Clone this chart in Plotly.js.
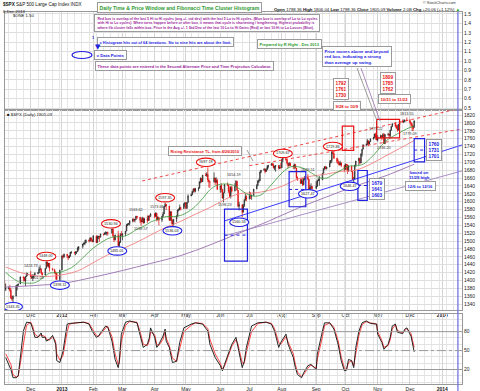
<!DOCTYPE html>
<html><head><meta charset="utf-8">
<script src="https://cdn.plot.ly/plotly-3.0.1.min.js"></script>
<style>html,body{margin:0;padding:0;background:#fff}#c{width:480px;height:391px}</style>
</head><body><div id="c"></div><script>
// ---------------- DATA ----------------
const dates = [
'2012-11-08','2012-11-09','2012-11-12','2012-11-13','2012-11-14','2012-11-15','2012-11-16','2012-11-19','2012-11-20','2012-11-21','2012-11-23','2012-11-26','2012-11-27','2012-11-28','2012-11-29','2012-11-30',
'2012-12-03','2012-12-04','2012-12-05','2012-12-06','2012-12-07','2012-12-10','2012-12-11','2012-12-12','2012-12-13','2012-12-14','2012-12-17','2012-12-18','2012-12-19','2012-12-20','2012-12-21','2012-12-24','2012-12-26','2012-12-27','2012-12-28','2012-12-31',
'2013-01-02','2013-01-03','2013-01-04','2013-01-07','2013-01-08','2013-01-09','2013-01-10','2013-01-11','2013-01-14','2013-01-15','2013-01-16','2013-01-17','2013-01-18','2013-01-22','2013-01-23','2013-01-24','2013-01-25','2013-01-28','2013-01-29','2013-01-30','2013-01-31',
'2013-02-01','2013-02-04','2013-02-05','2013-02-06','2013-02-07','2013-02-08','2013-02-11','2013-02-12','2013-02-13','2013-02-14','2013-02-15','2013-02-19','2013-02-20','2013-02-21','2013-02-22','2013-02-25','2013-02-26','2013-02-27','2013-02-28',
'2013-03-01','2013-03-04','2013-03-05','2013-03-06','2013-03-07','2013-03-08','2013-03-11','2013-03-12','2013-03-13','2013-03-14','2013-03-15','2013-03-18','2013-03-19','2013-03-20','2013-03-21','2013-03-22','2013-03-25','2013-03-26','2013-03-27','2013-03-28',
'2013-04-01','2013-04-02','2013-04-03','2013-04-04','2013-04-05','2013-04-08','2013-04-09','2013-04-10','2013-04-11','2013-04-12','2013-04-15','2013-04-16','2013-04-17','2013-04-18','2013-04-19','2013-04-22','2013-04-23','2013-04-24','2013-04-25','2013-04-26','2013-04-29','2013-04-30',
'2013-05-01','2013-05-02','2013-05-03','2013-05-06','2013-05-07','2013-05-08','2013-05-09','2013-05-10','2013-05-13','2013-05-14','2013-05-15','2013-05-16','2013-05-17','2013-05-20','2013-05-21','2013-05-22','2013-05-23','2013-05-24','2013-05-28','2013-05-29','2013-05-30','2013-05-31',
'2013-06-03','2013-06-04','2013-06-05','2013-06-06','2013-06-07','2013-06-10','2013-06-11','2013-06-12','2013-06-13','2013-06-14','2013-06-17','2013-06-18','2013-06-19','2013-06-20','2013-06-21','2013-06-24','2013-06-25','2013-06-26','2013-06-27','2013-06-28',
'2013-07-01','2013-07-02','2013-07-03','2013-07-05','2013-07-08','2013-07-09','2013-07-10','2013-07-11','2013-07-12','2013-07-15','2013-07-16','2013-07-17','2013-07-18','2013-07-19','2013-07-22','2013-07-23','2013-07-24','2013-07-25','2013-07-26','2013-07-29','2013-07-30','2013-07-31',
'2013-08-01','2013-08-02','2013-08-05','2013-08-06','2013-08-07','2013-08-08','2013-08-09','2013-08-12','2013-08-13','2013-08-14','2013-08-15','2013-08-16','2013-08-19','2013-08-20','2013-08-21','2013-08-22','2013-08-23','2013-08-26','2013-08-27','2013-08-28','2013-08-29','2013-08-30',
'2013-09-03','2013-09-04','2013-09-05','2013-09-06','2013-09-09','2013-09-10','2013-09-11','2013-09-12','2013-09-13','2013-09-16','2013-09-17','2013-09-18','2013-09-19','2013-09-20','2013-09-23','2013-09-24','2013-09-25','2013-09-26','2013-09-27','2013-09-30',
'2013-10-01','2013-10-02','2013-10-03','2013-10-04','2013-10-07','2013-10-08','2013-10-09','2013-10-10','2013-10-11','2013-10-14','2013-10-15','2013-10-16','2013-10-17','2013-10-18','2013-10-21','2013-10-22','2013-10-23','2013-10-24','2013-10-25','2013-10-28','2013-10-29','2013-10-30','2013-10-31',
'2013-11-01','2013-11-04','2013-11-05','2013-11-06','2013-11-07','2013-11-08','2013-11-11','2013-11-12','2013-11-13','2013-11-14','2013-11-15','2013-11-18','2013-11-19','2013-11-20','2013-11-21','2013-11-22','2013-11-25','2013-11-26','2013-11-27','2013-11-29',
'2013-12-02','2013-12-03','2013-12-04','2013-12-05','2013-12-06'];
const openP = [
1394.5,1377.6,1379.9,1380.0,1374.6,1355.4,1353.4,1359.9,1386.8,1387.8,1391.0,1409.2,1406.3,1398.8,1409.9,1416.0,
1416.3,1409.5,1407.1,1409.4,1413.9,1418.1,1418.6,1427.8,1428.5,1419.5,1413.5,1430.5,1446.8,1435.8,1443.7,1430.2,1426.7,1419.8,1418.1,1402.4,
1426.2,1462.4,1459.4,1466.5,1461.9,1457.2,1461.0,1472.1,1472.1,1470.7,1472.3,1472.6,1480.9,1486.0,1492.6,1494.8,1494.8,1503.0,1500.2,1507.8,1502.0,
1498.1,1513.2,1495.7,1511.3,1512.1,1509.4,1517.9,1517.0,1519.4,1520.3,1521.4,1519.8,1530.9,1512.0,1502.4,1515.6,1487.9,1496.9,1516.0,
1514.7,1518.2,1525.2,1539.8,1541.5,1544.3,1551.2,1556.2,1552.5,1554.5,1563.2,1560.7,1552.1,1548.3,1558.7,1545.8,1556.9,1551.7,1563.8,1562.9,
1569.2,1562.2,1570.3,1553.7,1560.0,1553.3,1563.1,1568.6,1587.7,1593.4,1588.9,1552.4,1574.6,1552.0,1541.6,1555.3,1562.5,1578.8,1578.8,1585.2,1582.2,1593.6,
1597.6,1582.7,1597.6,1614.4,1617.5,1626.0,1632.7,1626.7,1633.7,1633.8,1650.3,1658.8,1650.5,1667.5,1666.3,1669.2,1655.4,1650.5,1649.6,1660.1,1648.4,1654.4,
1630.7,1640.4,1631.4,1608.9,1622.6,1643.4,1642.8,1626.1,1612.5,1636.4,1626.7,1639.0,1651.8,1628.9,1588.2,1592.4,1573.1,1588.0,1603.3,1613.2,
1606.3,1615.0,1614.1,1615.4,1631.9,1640.5,1652.3,1652.6,1675.0,1680.2,1682.5,1676.3,1680.9,1689.4,1692.1,1695.5,1692.4,1685.9,1690.3,1691.7,1685.3,1686.0,
1685.7,1706.9,1709.7,1707.1,1697.4,1690.9,1697.5,1691.4,1689.5,1694.2,1685.4,1661.3,1655.8,1646.1,1652.4,1642.8,1657.0,1663.5,1656.8,1630.5,1635.0,1638.2,
1633.0,1639.8,1653.1,1655.1,1655.2,1671.7,1684.0,1689.1,1683.4,1688.0,1697.6,1704.8,1725.5,1722.3,1709.9,1701.8,1697.4,1692.8,1698.7,1691.8,
1681.6,1695.0,1693.9,1678.7,1690.5,1676.1,1655.5,1656.4,1692.6,1703.2,1710.1,1698.1,1721.5,1733.2,1744.5,1744.7,1754.7,1746.4,1752.1,1759.8,1762.1,1772.0,1763.3,
1756.5,1761.6,1767.9,1763.0,1770.5,1747.2,1770.6,1771.9,1767.7,1782.0,1790.6,1798.2,1791.5,1787.9,1781.4,1795.9,1804.8,1802.5,1802.8,1807.2,
1805.8,1800.9,1795.2,1792.8,1788.4];
const highP = [
1401.0,1391.4,1384.9,1388.8,1380.1,1360.6,1362.0,1386.9,1389.8,1391.2,1409.2,1409.2,1409.0,1410.0,1419.7,1418.9,
1423.73,1413.1,1415.6,1413.9,1420.3,1421.6,1434.3,1438.6,1431.4,1419.5,1430.7,1448.0,1447.8,1443.7,1443.7,1430.2,1429.4,1422.7,1418.1,1426.7,
1462.4,1465.5,1467.9,1466.5,1461.9,1464.7,1472.3,1472.8,1472.1,1473.3,1473.0,1485.2,1486.0,1492.6,1496.1,1502.3,1503.3,1503.2,1509.3,1509.9,1504.2,
1514.4,1513.2,1514.0,1512.5,1512.9,1518.3,1518.3,1522.3,1524.7,1523.1,1524.2,1530.94,1530.9,1512.0,1515.6,1525.8,1498.9,1520.1,1525.3,
1519.9,1525.3,1543.5,1545.3,1545.8,1552.5,1556.3,1556.8,1556.4,1563.62,1563.2,1560.7,1557.3,1561.6,1558.7,1557.7,1564.9,1563.9,1564.1,1570.3,
1570.6,1573.66,1571.5,1562.6,1560.0,1563.1,1573.9,1589.1,1597.35,1593.4,1588.9,1575.4,1574.6,1554.4,1555.9,1565.6,1579.6,1583.0,1592.6,1585.8,1596.7,1597.6,
1597.6,1598.6,1618.5,1619.8,1626.0,1632.8,1635.0,1633.7,1636.0,1651.1,1661.5,1660.5,1667.5,1672.8,1674.9,1687.18,1655.4,1650.5,1674.2,1660.1,1661.9,1658.0,
1640.4,1646.5,1631.4,1622.6,1644.4,1648.7,1642.8,1637.7,1639.3,1640.8,1646.5,1654.19,1652.5,1628.9,1599.2,1592.4,1593.8,1606.8,1620.1,1615.9,
1626.0,1624.3,1618.0,1632.1,1644.7,1654.2,1657.9,1676.6,1680.2,1684.5,1683.7,1684.8,1693.1,1692.1,1697.6,1698.8,1697.2,1690.9,1691.7,1691.7,1693.2,1698.4,
1707.9,1709.67,1709.7,1707.1,1697.4,1700.2,1699.4,1691.4,1696.8,1694.2,1685.4,1663.6,1659.6,1658.9,1660.0,1659.6,1664.0,1669.51,1656.8,1641.2,1646.4,1640.1,
1651.4,1655.7,1659.2,1664.8,1672.4,1684.1,1689.1,1690.0,1688.0,1705.0,1705.5,1729.4,1729.86,1725.2,1711.4,1707.6,1701.7,1703.9,1698.7,1691.8,
1696.6,1695.0,1693.9,1691.9,1690.5,1676.8,1662.5,1692.6,1703.4,1711.0,1711.0,1721.8,1733.4,1745.3,1747.8,1759.3,1754.7,1753.7,1759.8,1764.8,1772.1,1775.22,1768.5,
1768.5,1769.5,1767.9,1773.4,1774.5,1770.8,1773.2,1772.3,1782.0,1791.5,1798.2,1802.3,1795.5,1795.0,1797.2,1804.8,1808.4,1808.4,1808.4,1813.55,
1810.0,1800.9,1799.8,1792.8,1806.0];
const lowP = [
1377.5,1373.0,1377.2,1371.4,1352.5,1348.1,1343.35,1359.9,1374.6,1386.4,1391.0,1397.7,1398.0,1385.4,1409.0,1411.6,
1408.5,1403.6,1398.2,1405.0,1410.9,1415.6,1418.6,1426.8,1416.0,1411.9,1413.5,1430.5,1435.8,1432.8,1422.6,1424.7,1416.4,1401.8,1401.6,1398.11,
1426.2,1455.5,1458.0,1456.6,1451.6,1457.2,1461.0,1467.6,1465.7,1463.8,1467.0,1472.6,1475.8,1481.2,1489.9,1489.5,1494.8,1496.3,1498.1,1500.1,1496.8,
1498.1,1495.0,1495.7,1504.7,1498.1,1509.4,1513.6,1515.6,1515.9,1514.0,1514.1,1519.8,1511.4,1497.3,1502.4,1487.9,1485.01,1494.9,1514.5,
1501.5,1512.3,1525.2,1538.1,1541.5,1539.4,1547.4,1548.2,1547.4,1554.5,1555.7,1545.1,1538.57,1548.3,1543.6,1545.8,1546.2,1551.7,1551.9,1561.1,
1558.5,1562.2,1549.8,1552.5,1539.5,1548.6,1560.9,1568.6,1586.5,1579.0,1552.3,1552.4,1543.7,1536.03,1539.4,1548.2,1562.5,1575.8,1578.8,1577.6,1582.2,1586.5,
1581.3,1582.7,1597.6,1614.2,1616.6,1622.7,1623.1,1623.7,1626.7,1633.8,1646.7,1648.6,1650.5,1666.1,1662.7,1648.9,1635.5,1635.0,1649.6,1642.0,1648.4,1630.7,
1622.7,1623.6,1608.0,1598.23,1622.6,1639.3,1621.5,1610.9,1608.1,1622.9,1626.7,1639.0,1628.9,1585.8,1577.7,1560.33,1573.1,1588.0,1603.3,1601.1,
1606.3,1606.8,1604.6,1615.4,1631.9,1640.5,1647.7,1652.6,1672.3,1677.9,1671.8,1676.3,1680.9,1684.1,1692.1,1692.1,1684.1,1680.1,1676.0,1681.9,1682.4,1684.9,
1685.7,1700.7,1703.6,1693.9,1684.5,1690.9,1689.7,1683.4,1682.2,1684.4,1658.6,1652.6,1646.0,1646.1,1639.4,1642.8,1654.0,1656.0,1630.4,1627.47,1630.9,1628.1,
1633.0,1637.4,1653.1,1640.6,1655.2,1671.7,1681.0,1682.0,1682.2,1688.0,1697.6,1699.0,1721.1,1708.9,1697.1,1694.9,1691.9,1692.8,1687.5,1675.0,
1681.6,1680.3,1670.2,1676.0,1675.7,1655.0,1646.47,1656.4,1688.5,1692.1,1695.9,1698.1,1714.1,1733.2,1740.7,1744.7,1740.5,1745.5,1752.1,1757.7,1762.1,1757.2,1755.7,
1752.7,1761.6,1755.6,1763.0,1746.2,1746.2,1767.8,1762.6,1760.6,1780.2,1790.6,1788.4,1784.7,1777.2,1781.4,1794.7,1800.8,1800.0,1802.8,1805.8,
1798.6,1787.9,1779.1,1779.09,1788.4];
const closeP = [
1377.5,1379.9,1380.0,1374.5,1355.5,1353.3,1359.9,1386.9,1387.8,1391.0,1409.2,1406.3,1398.9,1409.9,1416.0,1416.2,
1409.5,1407.1,1409.3,1413.9,1418.1,1418.6,1427.8,1428.5,1419.5,1413.6,1430.4,1446.8,1435.8,1443.7,1430.2,1426.7,1419.8,1418.1,1402.4,1426.2,
1462.4,1459.4,1466.5,1461.9,1457.2,1461.0,1472.1,1472.1,1470.7,1472.3,1472.6,1480.9,1486.0,1492.6,1494.8,1494.8,1503.0,1500.2,1507.8,1502.0,1498.1,
1513.2,1495.7,1511.3,1512.1,1509.4,1517.9,1517.0,1519.4,1520.3,1521.4,1519.8,1530.9,1512.0,1502.4,1515.6,1487.9,1496.9,1516.0,1514.7,
1518.2,1525.2,1539.8,1541.5,1544.3,1551.2,1556.2,1552.5,1554.5,1563.2,1560.7,1552.1,1548.3,1558.7,1545.8,1556.9,1551.7,1563.8,1562.9,1569.2,
1562.2,1570.3,1553.7,1560.0,1553.3,1563.1,1568.6,1587.7,1593.4,1588.9,1552.4,1574.6,1552.0,1541.6,1555.3,1562.5,1578.8,1578.8,1585.2,1582.2,1593.6,1597.6,
1582.7,1597.6,1614.4,1617.5,1626.0,1632.7,1626.7,1633.7,1633.8,1650.3,1658.8,1650.5,1667.5,1666.3,1669.2,1655.4,1650.5,1649.6,1660.1,1648.4,1654.4,1630.7,
1640.4,1631.4,1608.9,1622.6,1643.4,1642.8,1626.1,1612.5,1636.4,1626.7,1639.0,1651.8,1628.9,1588.2,1592.4,1573.1,1588.0,1603.3,1613.2,1606.3,
1615.0,1614.1,1615.4,1631.9,1640.5,1652.3,1652.6,1675.0,1680.2,1682.5,1676.3,1680.9,1689.4,1692.1,1695.5,1692.4,1685.9,1690.3,1691.7,1685.3,1686.0,1685.7,
1706.9,1709.67,1707.1,1697.4,1690.9,1697.5,1691.4,1689.5,1694.2,1685.4,1661.3,1655.8,1646.1,1652.4,1642.8,1657.0,1663.5,1656.8,1630.5,1635.0,1638.2,1633.0,
1639.8,1653.1,1655.1,1655.2,1671.7,1684.0,1689.1,1683.4,1688.0,1697.6,1704.8,1725.5,1722.3,1709.9,1701.8,1697.4,1692.8,1698.7,1691.8,1681.6,
1695.0,1693.9,1678.7,1690.5,1676.1,1655.5,1656.4,1692.6,1703.2,1710.1,1698.1,1721.5,1733.2,1744.5,1744.7,1754.7,1746.4,1752.1,1759.8,1762.1,1772.0,1763.3,1756.5,
1761.6,1767.9,1763.0,1770.5,1747.2,1770.6,1771.9,1767.7,1782.0,1790.6,1798.2,1791.5,1787.9,1781.4,1795.9,1804.8,1802.5,1802.8,1807.2,1805.8,
1800.9,1795.2,1792.8,1785.0,1805.1];

// moving averages (weekly samples)
const ma20Dates = ['2012-11-09','2012-11-16','2012-11-23','2012-11-30','2012-12-07','2012-12-14','2012-12-21','2012-12-31','2013-01-04','2013-01-11','2013-01-18','2013-01-25','2013-02-01','2013-02-08','2013-02-15','2013-02-22','2013-03-01','2013-03-08','2013-03-15','2013-03-22','2013-03-28','2013-04-05','2013-04-12','2013-04-19','2013-04-26','2013-05-03','2013-05-10','2013-05-17','2013-05-24','2013-05-31','2013-06-07','2013-06-14','2013-06-21','2013-06-28','2013-07-05','2013-07-12','2013-07-19','2013-07-26','2013-08-02','2013-08-09','2013-08-16','2013-08-23','2013-08-30','2013-09-06','2013-09-13','2013-09-20','2013-09-27','2013-10-04','2013-10-11','2013-10-18','2013-10-25','2013-11-01','2013-11-08','2013-11-15','2013-11-22','2013-11-29','2013-12-06'];
const ma20 = [1420,1405,1395,1393,1394,1405,1418,1420,1424,1432,1447,1465,1482,1495,1506,1511,1511,1518,1530,1538,1548,1556,1562,1562,1565,1574,1588,1608,1630,1642,1645,1643,1633,1620,1614,1617,1634,1655,1675,1688,1689,1683,1672,1661,1660,1670,1680,1690,1691,1695,1710,1730,1752,1765,1775,1785,1792];
const ma50Dates = ['2012-11-09','2012-11-23','2012-12-07','2012-12-21','2013-01-04','2013-01-18','2013-02-01','2013-02-15','2013-03-01','2013-03-15','2013-03-28','2013-04-12','2013-04-26','2013-05-10','2013-05-24','2013-06-07','2013-06-21','2013-07-05','2013-07-19','2013-08-02','2013-08-16','2013-08-30','2013-09-13','2013-09-27','2013-10-11','2013-10-25','2013-11-08','2013-11-22','2013-12-06'];
const ma50 = [1434,1420,1412,1410,1415,1425,1445,1465,1480,1497,1515,1535,1550,1568,1585,1605,1620,1622,1628,1640,1657,1665,1670,1677,1680,1695,1715,1735,1755];
const ma200Dates = ['2012-11-09','2012-12-07','2013-01-04','2013-02-01','2013-03-01','2013-03-28','2013-04-26','2013-05-24','2013-06-21','2013-07-19','2013-08-16','2013-09-13','2013-10-11','2013-11-08','2013-12-06'];
const ma200 = [1383,1387,1393,1408,1425,1443,1463,1490,1520,1550,1583,1612,1640,1665,1695];

// slow stochastic (%K black, %D red)
const stoDates = ['2012-11-09','2012-11-14','2012-11-16','2012-11-19','2012-11-21','2012-11-26','2012-11-29','2012-12-03','2012-12-05','2012-12-07','2012-12-10','2012-12-13','2012-12-14','2012-12-17','2012-12-18','2012-12-21','2012-12-24','2012-12-26','2012-12-27','2012-12-28','2012-12-31','2013-01-03','2013-01-07','2013-01-09','2013-01-16','2013-01-23','2013-01-28','2013-01-31','2013-02-04','2013-02-06','2013-02-08','2013-02-13','2013-02-15','2013-02-19','2013-02-22','2013-02-25','2013-02-26','2013-02-28','2013-03-04','2013-03-08','2013-03-15','2013-03-18','2013-03-21','2013-03-25','2013-03-27','2013-03-28','2013-04-01','2013-04-03','2013-04-05','2013-04-09','2013-04-11','2013-04-12','2013-04-15','2013-04-18','2013-04-22','2013-04-25','2013-04-29','2013-05-06','2013-05-10','2013-05-17','2013-05-22','2013-05-24','2013-05-29','2013-06-03','2013-06-05','2013-06-07','2013-06-12','2013-06-14','2013-06-18','2013-06-20','2013-06-21','2013-06-24','2013-06-26','2013-06-28','2013-07-03','2013-07-09','2013-07-17','2013-07-22','2013-07-25','2013-07-29','2013-07-31','2013-08-05','2013-08-07','2013-08-12','2013-08-14','2013-08-16','2013-08-20','2013-08-22','2013-08-26','2013-08-29','2013-09-03','2013-09-04','2013-09-09','2013-09-11','2013-09-16','2013-09-20','2013-09-24','2013-09-27','2013-09-30','2013-10-02','2013-10-04','2013-10-07','2013-10-09','2013-10-11','2013-10-14','2013-10-17','2013-10-21','2013-10-25','2013-10-31','2013-11-01','2013-11-05','2013-11-07','2013-11-11','2013-11-13','2013-11-15','2013-11-18','2013-11-20','2013-11-25','2013-11-27','2013-11-29','2013-12-03','2013-12-06'];
const stoK = [39,20,7,7,10,81,95,94,84,71,71,78,71,71,65,68,74,65,60,34,31,49,92,93,94,95,92,81,71,73,78,89,87,65,36,23,33,76,95,97,94,73,55,60,71,86,71,55,60,73,84,65,55,31,33,63,86,92,94,92,81,60,39,26,18,28,52,60,71,55,49,23,33,55,89,94,95,92,81,55,63,76,60,39,23,12,7,15,26,28,20,44,81,94,94,84,60,34,18,19,36,34,23,55,81,94,97,93,92,76,63,52,60,71,89,92,79,77,84,86,73,48];
const stoD = [45,28,12,8,9,60,90,95,88,76,72,75,74,72,68,67,71,68,63,45,35,42,80,92,94,95,93,85,74,72,76,86,88,72,45,28,30,65,90,96,95,80,60,58,66,80,75,60,58,68,80,70,58,38,33,55,80,90,94,93,85,68,45,30,20,25,46,57,67,60,52,30,30,48,80,93,95,93,85,63,60,72,64,45,28,16,9,12,22,27,22,36,72,90,94,87,66,40,22,19,31,34,26,46,74,91,96,94,92,80,66,55,58,67,84,91,82,78,82,85,77,55];

// labelled turning points
const highLblDates = ['2012-12-18','2013-02-19','2013-04-11','2013-05-22','2013-08-02','2013-09-19'];
const highLblVals  = [1448.00,1530.94,1597.35,1687.18,1709.67,1729.86];
const lowLblDates  = ['2012-11-16','2012-12-31','2013-02-26','2013-04-18','2013-06-24','2013-08-28','2013-10-09'];
const lowLblVals   = [1343.35,1398.11,1485.01,1536.03,1560.33,1627.47,1646.47];
const plainLblDates = ['2012-12-03','2012-12-06','2013-03-14','2013-04-02','2013-03-19','2013-06-18','2013-06-06','2013-08-26','2013-10-30','2013-11-07','2013-11-29','2013-12-05'];
const plainLblVals  = [1423.73,1401.58,1563.62,1573.66,1538.57,1654.19,1598.23,1669.51,1775.22,1746.20,1813.55,1779.09];

// time & price windows
const redWin1Dates = ['2013-09-28','2013-10-09'];  const redWin1Vals = [1792,1761,1730];
const redWin2Dates = ['2013-10-31','2013-11-22'];  const redWin2Vals = [1809,1785,1762];
const blueWinADates = ['2013-06-07','2013-06-29']; const blueWinAVals = [1581,1515,1449];
const blueWinBDates = ['2013-08-08','2013-08-24']; const blueWinBVals = [1676,1631,1587];
const blueWinCDates = ['2013-10-13','2013-10-22']; const blueWinCVals = [1679,1641,1603];
const blueWinDDates = ['2013-12-06','2013-12-16']; const blueWinDVals = [1760,1731,1701];

// histogram hits
const hitDates = ['2013-10-09','2013-11-12','2013-11-19'];
const hitCounts = ['1','4','3'];

// trendlines (start/end)
const resistTL = {d:['2013-03-20','2014-01-21'], v:[1652.5,1837.8]};
const resist2TL = {d:['2013-07-01','2014-01-21'], v:[1691.4,1784.5]};
const supportTL = {d:['2013-06-07','2014-01-21'], v:[1551,1744]};
const lowerTL = {d:['2013-06-07','2014-01-21'], v:[1513,1678]};
const markerDate = '2014-01-17';

const monthTicks = ['2012-12-03','2013-01-02','2013-02-01','2013-03-01','2013-04-01','2013-05-01','2013-06-03','2013-07-01','2013-08-01','2013-09-03','2013-10-01','2013-11-01','2013-12-02','2014-01-02'];
const monthLabels = ['Dec','<b>2013</b>','Feb','Mar','Apr','May','Jun','Jul','Aug','Sep','Oct','Nov','Dec','<b>2014</b>'];

// ---------------- DRAWING ----------------
const W=480,H=391;
const PX=x=>x/W, PY=y=>1-y/H;
const F='Liberation Sans, Arial, sans-serif';
const RED='#e81010', BLUE='#2020e0', PURP='#9b1f9b', GREEN='#2e9a2e';
const xr=['2012-11-08 08:00','2014-01-20 22:00'];

const traces=[];
traces.push({type:'scatter',x:hitDates,y:[0.37,0.43,0.43],xaxis:'x',yaxis:'y',mode:'markers+text',
  text:hitCounts,textposition:'top center',textfont:{family:F,size:5,color:RED},cliponaxis:false,
  marker:{symbol:'triangle-down',size:6,color:RED},hoverinfo:'skip',showlegend:false});
traces.push({type:'scatter',x:ma200Dates,y:ma200,xaxis:'x2',yaxis:'y2',mode:'lines',line:{color:'#9a6fb0',width:0.9,shape:'spline'},hoverinfo:'skip',showlegend:false});
traces.push({type:'scatter',x:ma50Dates,y:ma50,xaxis:'x2',yaxis:'y2',mode:'lines',line:{color:'#f08080',width:0.9,shape:'spline'},hoverinfo:'skip',showlegend:false});
traces.push({type:'scatter',x:ma20Dates,y:ma20,xaxis:'x2',yaxis:'y2',mode:'lines',line:{color:'#3a9a3a',width:0.8,shape:'spline'},hoverinfo:'skip',showlegend:false});
traces.push({type:'candlestick',x:dates,open:openP,high:highP,low:lowP,close:closeP,xaxis:'x2',yaxis:'y2',
  increasing:{line:{color:'#111',width:0.7},fillcolor:'#ffffff'},
  decreasing:{line:{color:'#e00000',width:0.7},fillcolor:'#e00000'},
  whiskerwidth:0,hoverinfo:'skip',showlegend:false});
traces.push({type:'scatter',x:stoDates,y:stoD,xaxis:'x3',yaxis:'y3',mode:'lines',line:{color:'#ff3030',width:0.9},hoverinfo:'skip',showlegend:false});
traces.push({type:'scatter',x:stoDates,y:stoK,xaxis:'x3',yaxis:'y3',mode:'lines',line:{color:'#111',width:0.9},hoverinfo:'skip',showlegend:false});

const shapes=[], ann=[];
function seg(tl,color,dash,w){shapes.push({type:'line',xref:'x2',yref:'y2',x0:tl.d[0],x1:tl.d[1],y0:tl.v[0],y1:tl.v[1],line:{color,width:w||1,dash}});}
seg(resistTL,'#f03030','dot',0.9);
seg(resist2TL,'#f03030','dot',0.9);
seg(supportTL,'#3b3bff','solid',1);
seg(lowerTL,'#a084c0','solid',0.9);
function win(d,v,color,mid){
  shapes.push({type:'rect',xref:'x2',yref:'y2',x0:d[0],x1:d[1],y0:v[2],y1:v[0],line:{color,width:1.2},fillcolor:'rgba(0,0,0,0)'});
  if(mid) shapes.push({type:'line',xref:'x2',yref:'y2',x0:d[0],x1:d[1],y0:v[1],y1:v[1],line:{color,width:1,dash:'dot'}});
}
win(redWin1Dates,redWin1Vals,RED,false);
win(redWin2Dates,redWin2Vals,RED,false);
win(blueWinADates,blueWinAVals,BLUE,true);
win(blueWinBDates,blueWinBVals,BLUE,true);
win(blueWinCDates,blueWinCVals,BLUE,true);
win(blueWinDDates,blueWinDVals,BLUE,true);

// marker vertical line
shapes.push({type:'line',xref:'x2',yref:'paper',x0:markerDate,x1:markerDate,y0:0,y1:PY(12),line:{color:'#6a6ae0',width:1.2}});
// stochastic reference lines
[[80,'solid'],[20,'solid'],[50,'dashdot']].forEach(([v,d])=>shapes.push({type:'line',xref:'x3 domain',yref:'y3',x0:0,x1:1,y0:v,y1:v,line:{color:'#999',width:1,dash:d}}));

// ellipse labels
const hiOff=[[0,5],[-1,5],[0,5],[-2,5],[0,5],[0,4]];
const loOff=[[0,-4],[0,-4],[-2,-4],[0,-4],[-3,-5],[-2,-3],[-4,-3]];
function ell(d,v,off,color){
  shapes.push({type:'circle',xref:'x2',yref:'y2',xsizemode:'pixel',ysizemode:'pixel',xanchor:d,yanchor:v,
    x0:off[0]-9.5,x1:off[0]+9.5,y0:off[1]-4.2,y1:off[1]+4.2,line:{color,width:1.1},fillcolor:'#fff',layer:'above'});
  ann.push({xref:'x2',yref:'y2',x:d,y:v,xshift:off[0],yshift:off[1],text:v.toFixed(2),showarrow:false,font:{family:F,size:3.8,color:'#222'}});
}
highLblDates.forEach((d,i)=>ell(d,highLblVals[i],hiOff[i],RED));
lowLblDates.forEach((d,i)=>ell(d,lowLblVals[i],loOff[i],BLUE));
const plOff=[[0,5],[3,2],[0,6],[1,5],[0,-3],[-2,5],[2,-3],[0,4],[0,4],[0,-4],[0,4],[-3,-3]];
plainLblDates.forEach((d,i)=>ann.push({xref:'x2',yref:'y2',x:d,y:plainLblVals[i],xshift:plOff[i][0],yshift:plOff[i][1],
  text:plainLblVals[i].toFixed(2),showarrow:false,font:{family:F,size:3.8,color:'#333'}}));

function box(x,y,text,color,size,o){
  ann.push(Object.assign({xref:'paper',yref:'paper',x:PX(x),y:PY(y),xanchor:'left',yanchor:'top',text,showarrow:false,align:'left',
    font:{family:F,size,color},bgcolor:'#fff',bordercolor:'#9a9a9a',borderwidth:1,borderpad:1.5},o||{}));
}
function txt(x,y,text,color,size,o){
  ann.push(Object.assign({xref:'paper',yref:'paper',x:PX(x),y:PY(y),xanchor:'left',yanchor:'top',text,showarrow:false,align:'left',
    font:{family:F,size,color}},o||{}));
}
// header
txt(1,0,'<b>$SPX</b> S&P 500 Large Cap Index INDX','#111',4.6);
txt(1,7,'6-Dec-2013','#111',4.2);
txt(11,11,'$ONE 1.50','#111',4.2);
txt(458,-1,'© StockCharts.com','#333',3.8,{xanchor:'right'});
txt(272,5,'<b>Open</b> 1788.36 <b>High</b> 1806.04 <b>Low</b> 1788.36 <b>Close</b> 1805.09 <b>Volume</b> 2.0B <b>Chg</b> +20.06 (+1.12%) <span style="color:#2a2">▲</span>','#111',4.3);
txt(5,110,'■ $SPX (Daily) 1805.09','#222',4.3);

box(97,2,'<b>Daily Time &amp; Price Window and Fibonacci Time Cluster Histogram</b>',GREEN,5.1);
box(94,14,'<b>Red box is overlap of the last 5 Hi to Hi cycles (avg +/- std dev) with the last 5 Lo to Hi cycles. (Blue box is overlap of Lo to Lo cycles<br>with Hi to Lo cycles). When turns happen before or after box, it means that cycle is shortening / lengthening. Highest probability is<br>where fib cluster falls within box. Price in the Avg +/- 1 Std Dev of the last 10 Lo to Hi Gains (Red) or last 10 Hi to Lo Losses (Blue).</b>',PURP,3.5);
box(97,37,'<b>= Histogram hits out of 64 iterations. Six to nine hits are about the limit.</b>',BLUE,3.9);
box(257,39,'<b>Prepared by R Hight - Dec 2013</b>',GREEN,4);
box(94,50,'<b>= Data Points</b>',BLUE,4.3);
box(95,61,'<b>These data points are entered in the Second Alternate Price and Time Projection Calculator.</b>',PURP,4);
box(322,46,'<b>Price moves above and beyond<br>red box, indicating a strong<br>than average up swing.</b>',BLUE,4.3);
box(168,146,'<b>Rising Resistance TL. from 4/26/2010</b>',RED,3.9);
box(333,78,'<b>'+redWin1Vals.join('<br>')+'</b>',RED,4.8,{align:'center'});
box(333,101,'<b>9/28 to 10/9</b>',RED,4.2);
box(380,72,'<b>'+redWin2Vals.join('<br>')+'</b>',RED,4.8,{align:'center'});
box(378,94,'<b>10/31 to 11/22</b>',RED,4.2);
box(369,178,'<b>'+blueWinCVals.join('<br>')+'</b>',BLUE,4.8,{align:'center'});
box(426,139,'<b>'+blueWinDVals.join('<br>')+'</b>',BLUE,4.8,{align:'center'});
txt(419,168,'<b>based on<br>11/29 high</b>',BLUE,4.2,{xanchor:'center',align:'center'});
box(405,181,'<b>12/6 to 12/16</b>',BLUE,4.2);
// legend glyphs
shapes.push({type:'circle',xref:'paper',yref:'paper',x0:PX(72),x1:PX(92),y0:PY(58.5),y1:PY(51.5),line:{color:BLUE,width:1.2}});
txt(93,33,'<b>1</b>',BLUE,4,{xanchor:'center'});
ann.push({xref:'paper',yref:'paper',x:PX(93),y:PY(41),text:'▼',showarrow:false,font:{family:'DejaVu Sans',size:7,color:BLUE}});
// leader lines
shapes.push({type:'line',xref:'paper',yref:'paper',x0:PX(357),y0:PY(68),x1:PX(377),y1:PY(121),line:{color:'#888',width:0.8}});
shapes.push({type:'line',xref:'paper',yref:'paper',x0:PX(361),y0:PY(68),x1:PX(380),y1:PY(121),line:{color:'#9a6fb0',width:0.8}});
shapes.push({type:'line',xref:'paper',yref:'paper',x0:PX(247),y0:PY(150),x1:PX(253),y1:PY(161),line:{color:'#888',width:0.8}});

const tickF={family:F,size:5,color:'#222'};
const xbase={type:'date',range:xr,tickvals:monthTicks,ticktext:monthLabels,showgrid:true,gridcolor:'#d4d4d4',gridwidth:1,
  minor:{tick0:'2012-11-12',dtick:604800000,showgrid:true,gridcolor:'#e6e6e6',gridwidth:1},
  showline:true,mirror:true,linecolor:'#999',linewidth:1,ticks:'',tickfont:tickF,zeroline:false,fixedrange:true};
const layout={
  width:W,height:H,margin:{l:0,r:0,t:0,b:0},paper_bgcolor:'#fff',plot_bgcolor:'#fff',showlegend:false,
  xaxis:Object.assign({},xbase,{domain:[PX(5),PX(462)],anchor:'y',showticklabels:false}),
  xaxis2:Object.assign({},xbase,{domain:[PX(5),PX(462)],anchor:'y2',showticklabels:true,rangeslider:{visible:false}}),
  xaxis3:Object.assign({},xbase,{domain:[PX(5),PX(462)],anchor:'y3',showticklabels:true}),
  yaxis:{domain:[PY(110),PY(12)],range:[0.479,1.521],dtick:0.1,tick0:0.5,tickformat:'.1f',side:'right',anchor:'x',showgrid:true,gridcolor:'#dedede',
    showline:true,mirror:true,linecolor:'#999',ticks:'',tickfont:tickF,zeroline:false},
  yaxis2:{domain:[PY(310),PY(110)],range:[1324.8,1832.7],dtick:20,tick0:1340,side:'right',anchor:'x2',showgrid:true,gridcolor:'#dedede',
    showline:true,mirror:true,linecolor:'#999',ticks:'',tickfont:tickF,zeroline:false},
  yaxis3:{domain:[PY(384),PY(314)],range:[-3,108],tickvals:[20,50,80],side:'right',anchor:'x3',showgrid:false,
    minor:{dtick:10,tick0:0,showgrid:true,gridcolor:'#e2e2e2'},
    showline:true,mirror:true,linecolor:'#999',ticks:'',tickfont:tickF,zeroline:false},
  shapes,annotations:ann
};
Plotly.newPlot('c',traces,layout,{staticPlot:true,displayModeBar:false});
</script></body></html>
